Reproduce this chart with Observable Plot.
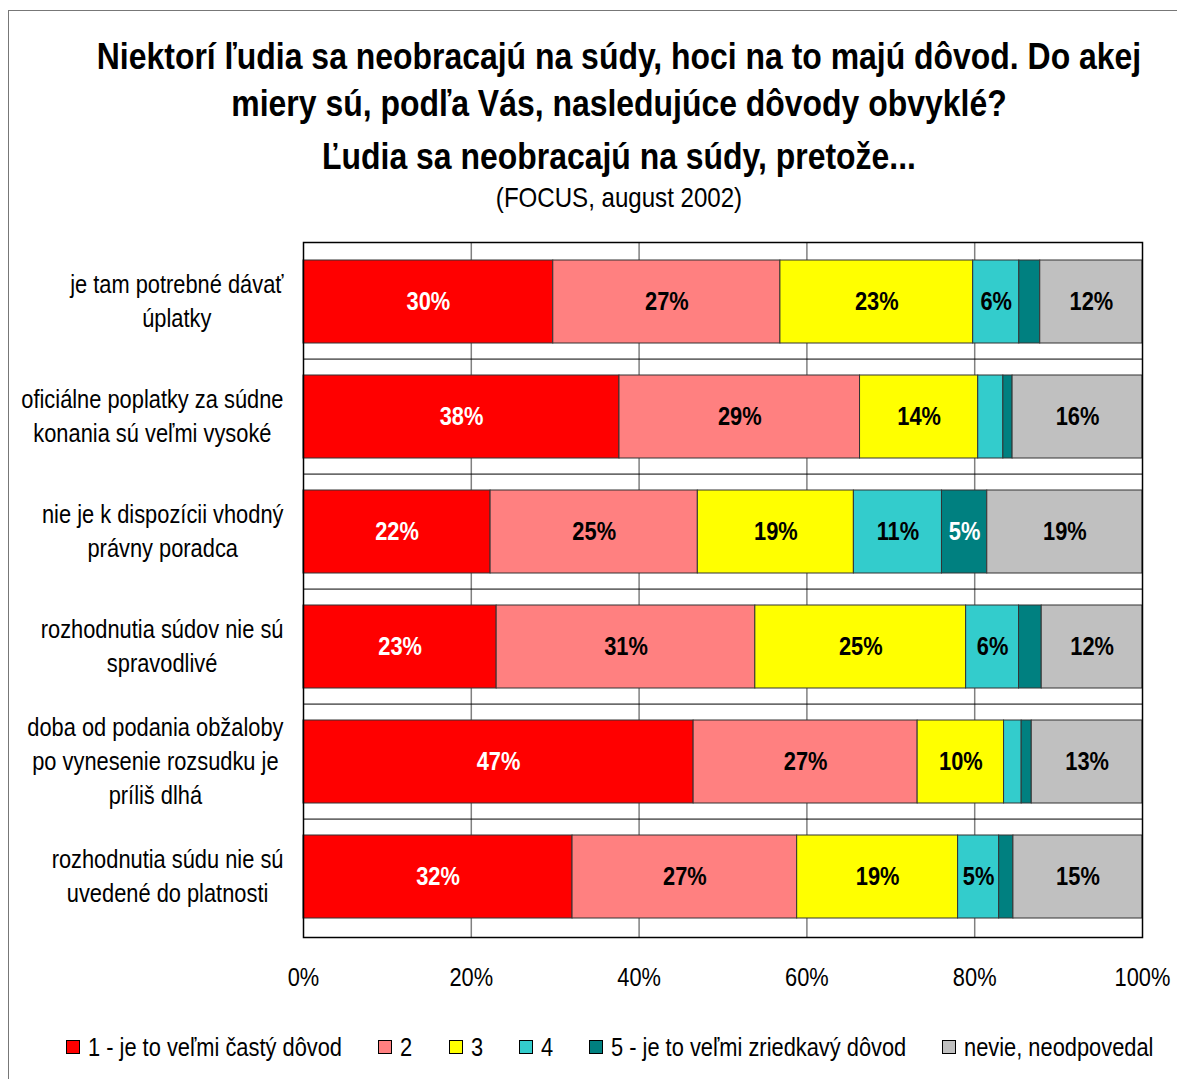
<!DOCTYPE html>
<html>
<head>
<meta charset="utf-8">
<script src="https://cdn.jsdelivr.net/npm/d3@7"></script>
<script src="https://cdn.jsdelivr.net/npm/@observablehq/plot@0.6"></script>
<style>
  html, body { margin: 0; padding: 0; background: #fff; }
  body { width: 1177px; height: 1079px; position: relative; overflow: hidden;
         font-family: "Liberation Sans", Arial, sans-serif; }
  #border { position: absolute; left: 8px; top: 10px; width: 1200px; height: 1100px; border: 1px solid #777; }
  .t { position: absolute; left: -31px; width: 1300px; text-align: center; font-weight: bold; font-size: 36px; color: #000;
       white-space: nowrap; transform: scaleX(0.887); transform-origin: 650px 0; line-height: 40px; }
  #sub { font-weight: normal; font-size: 28px; line-height: 30px; transform: scaleX(0.86); }
  #chart { position: absolute; left: 8px; top: 230px; }
  #legend { position: absolute; top: 1032px; left: 0; width: 1220px; display: flex; justify-content: center; font-size: 26px; white-space: nowrap; line-height: 30px; }
  .li { display: flex; align-items: center; margin: 0 18px; }
  .sw { width: 12px; height: 12px; border: 1px solid #000; margin-right: 8px; flex: none; }
  .lt { display: inline-block; overflow: visible; }
  .lt > span { display: inline-block; transform: scaleX(0.84); transform-origin: 0 0; }
</style>
</head>
<body>
<div id="border"></div>
<div class="t" style="top:37px">Niektorí ľudia sa neobracajú na súdy, hoci na to majú dôvod. Do akej</div>
<div class="t" style="top:84px">miery sú, podľa Vás, nasledujúce dôvody obvyklé?</div>
<div class="t" style="top:137px">Ľudia sa neobracajú na súdy, pretože...</div>
<div class="t" id="sub" style="top:183px">(FOCUS, august 2002)</div>
<div id="chart"></div>
<div id="legend"></div>
<script>
const categories = [
  "je tam potrebné dávať\núplatky",
  "oficiálne poplatky za súdne\nkonania sú veľmi vysoké",
  "nie je k dispozícii vhodný\nprávny poradca",
  "rozhodnutia súdov nie sú\nspravodlivé",
  "doba od podania obžaloby\npo vynesenie rozsudku je\npríliš dlhá",
  "rozhodnutia súdu nie sú\nuvedené do platnosti"
];
const seriesNames = [
  "1 - je to veľmi častý dôvod",
  "2",
  "3",
  "4",
  "5 - je to veľmi zriedkavý dôvod",
  "nevie, neodpovedal"
];
const seriesColors = ["#FF0000", "#FF8080", "#FFFF00", "#33CCCC", "#008080", "#C0C0C0"];
// values in percent, one array per series (in category order)
const s1 = [29.8, 37.7, 22.3, 23.0, 46.5, 32.1];
const s2 = [27.1, 28.7, 24.7, 30.8, 26.7, 26.8];
const s3 = [23.0, 14.1, 18.6, 25.1, 10.3, 19.2];
const s4 = [5.5, 3.0, 10.5, 6.3, 2.1, 4.9];
const s5 = [2.5, 1.1, 5.4, 2.7, 1.2, 1.7];
const s6 = [12.2, 15.5, 18.5, 12.0, 13.2, 15.4];
const xTicks = [0, 0.2, 0.4, 0.6, 0.8, 1];

const series = [s1, s2, s3, s4, s5, s6];
const data = [];
categories.forEach((c, i) => series.forEach((s, j) => data.push({cat: c, ser: seriesNames[j], si: j, v: s[i]})));

const FONT = '"Liberation Sans", Arial, sans-serif';
const SX = 0.84;
const FS = 26;
const W = 1169, H = 767;
const mL = 295, mR = 35, mT = 12;
const mB = H - (937 - 230);
const step = (H - mT - mB) / categories.length;

const cv = document.createElement("canvas").getContext("2d");
cv.font = `${FS}px ${FONT}`;
function blockWidth(s) { return d3.max(s.split("\n"), l => cv.measureText(l).width) * SX; }

const labelMarks = categories.map(c => Plot.text([c], {
  y: d => d, text: d => d, frameAnchor: "left", textAnchor: "middle",
  dx: -(20 + blockWidth(c) / 2), dy: -3, fontSize: FS, lineHeight: 1.3, fill: "#000"
}));

const stackOpts = {x: "v", y: "cat", fill: "ser", order: seriesNames, offset: "normalize"};

const chart = Plot.plot({
  width: W, height: H,
  marginLeft: mL, marginRight: mR, marginTop: mT, marginBottom: mB,
  style: {fontFamily: FONT, background: "transparent", overflow: "visible"},
  x: {domain: [0, 1], ticks: xTicks, tickFormat: d3.format(".0%"), label: null},
  y: {domain: categories, paddingInner: 0.276, paddingOuter: 0.138, label: null, axis: null},
  color: {domain: seriesNames, range: seriesColors},
  marks: [
    Plot.gridX(xTicks.slice(1, -1), {stroke: "#808080", strokeOpacity: 1, strokeWidth: 1.5}),
    Plot.ruleY(categories.slice(1), {y: d => d, dy: -step / 2, stroke: "#000", strokeWidth: 1}),
    Plot.barX(data, Plot.stackX({...stackOpts, stroke: "#333", strokeWidth: 1})),
    Plot.text(data, Plot.stackX({
      ...stackOpts,
      text: d => d.v >= 4.5 ? Math.round(d.v) + "%" : "",
      fill: d => (d.si === 0 || d.si === 4) ? "#fff" : "#000",
      fontWeight: "bold", fontSize: FS
    })),
    Plot.frame({stroke: "#000", strokeWidth: 1.5}),
    Plot.axisX({ticks: xTicks, tickFormat: d3.format(".0%"), tickSize: 0, tickPadding: 30, fontSize: FS, fill: "#000", label: null}),
    ...labelMarks
  ]
});
// narrow the glyphs horizontally (Arial Narrow look) around each text's anchor
chart.querySelectorAll("text").forEach(t => {
  let x = parseFloat(t.getAttribute("x"));
  if (!isFinite(x)) x = 0;
  const tr = t.getAttribute("transform") || "";
  t.setAttribute("transform", `${tr} translate(${x},0) scale(${SX},1) translate(${-x},0)`.trim());
});
document.getElementById("chart").appendChild(chart);

const lg = document.getElementById("legend");
seriesNames.forEach((n, i) => {
  const el = document.createElement("div");
  el.className = "li";
  const w = cv.measureText(n).width * SX;
  el.innerHTML = `<div class="sw" style="background:${seriesColors[i]}"></div><span class="lt" style="width:${w}px"><span>${n}</span></span>`;
  lg.appendChild(el);
});
</script>
</body>
</html>
